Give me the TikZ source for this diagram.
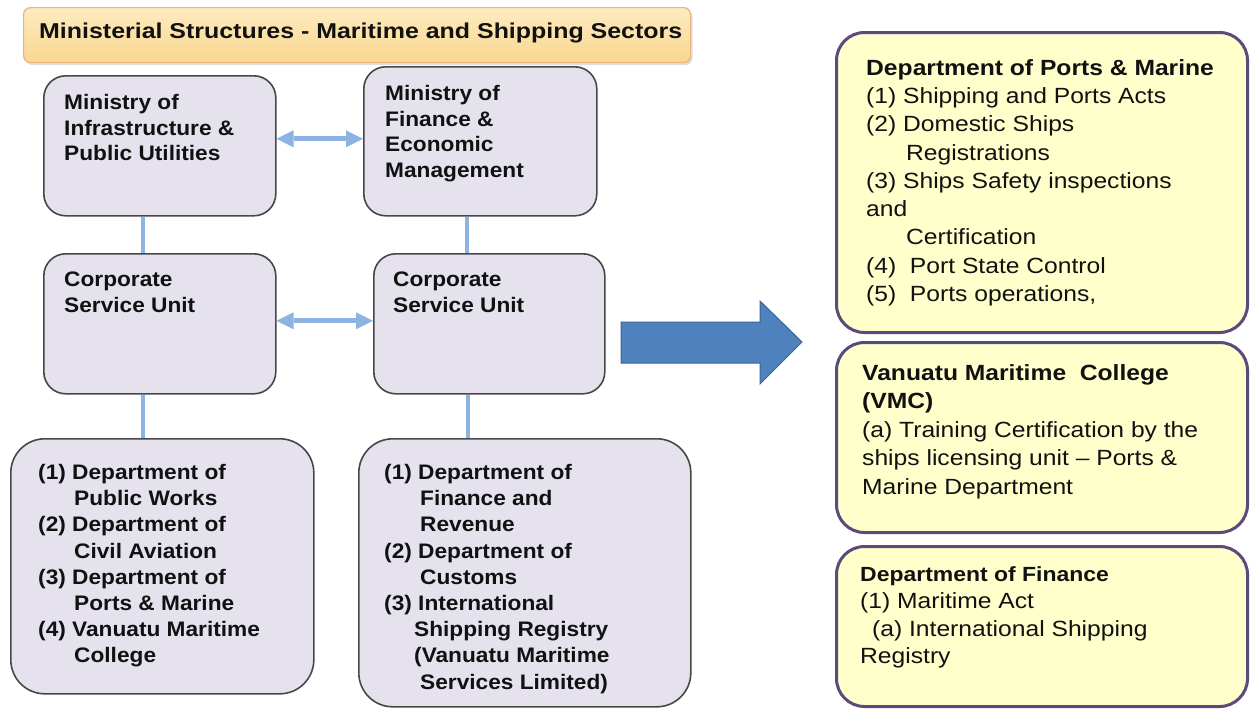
\documentclass[tikz,border=0pt]{standalone}
\usepackage{fontspec}
\setmainfont{Liberation Sans}[FakeStretch=1.08]
\newfontfamily\titlefont{Liberation Sans}[FakeStretch=1.16]
\newfontfamily\rightfont{Liberation Sans}[FakeStretch=1.12]
\usetikzlibrary{arrows.meta,shadows}
\definecolor{lavfill}{HTML}{E5E2EE}
\definecolor{lavdraw}{HTML}{474747}
\definecolor{conncol}{HTML}{8DB3E2}
\definecolor{bigblue}{HTML}{4F81BD}
\definecolor{bigbluedraw}{HTML}{3B6597}
\definecolor{yelfill}{HTML}{FFFFCC}
\definecolor{purpdraw}{HTML}{5C4A7C}
\definecolor{titletop}{HTML}{FDEBC0}
\definecolor{titlebot}{HTML}{F9D78F}
\definecolor{titledraw}{HTML}{EDB27C}
\definecolor{txt}{HTML}{111111}
\begin{document}
\begin{tikzpicture}[x=1pt,y=-1pt,
 lbox/.style={draw=lavdraw, line width=1.6pt, fill=lavfill, rounded corners=22pt, anchor=north west, inner sep=0pt},
 rbox/.style={draw=purpdraw, line width=3pt, fill=yelfill, rounded corners=28pt, anchor=north west, inner sep=0pt},
 ltext/.style={anchor=north west, inner sep=0pt, align=left, text=txt, font=\fontsize{21}{25.7}\selectfont\bfseries},
 rtext/.style={anchor=north west, inner sep=0pt, align=left, text=txt, font=\rightfont\fontsize{22}{28.3}\selectfont},
 conn/.style={draw=conncol, line width=4.5pt},
 dbl/.style={draw=conncol, line width=5pt, {Triangle[length=17pt,width=17pt,line width=0pt]}-{Triangle[length=17pt,width=17pt,line width=0pt]}},
]
\fill[white] (0,0) rectangle (1251,713);
\useasboundingbox (0,0) rectangle (1251,713);

% title
\node[draw=titledraw, line width=1.2pt, top color=titletop, bottom color=titlebot, rounded corners=7pt,
  minimum width=667pt, minimum height=55pt, anchor=north west, inner sep=0pt,
  drop shadow={shadow xshift=2pt, shadow yshift=-2.5pt, opacity=0.25}] (T) at (23,7) {};
\node[anchor=west, inner sep=0pt, text=txt, font=\titlefont\fontsize{21.5}{25}\selectfont\bfseries] (Tt) at (39,33)
  {Ministerial Structures - Maritime and Shipping Sectors};

% left boxes
\node[lbox, minimum width=232pt, minimum height=140pt] (A) at (43,75) {};
\node[lbox, minimum width=233pt, minimum height=149pt] (B) at (363,66) {};
\node[lbox, minimum width=232pt, minimum height=140pt] (C) at (43,253) {};
\node[lbox, minimum width=231pt, minimum height=140pt] (D) at (373,253) {};
\node[lbox, rounded corners=34pt, minimum width=303pt, minimum height=255pt] (E) at (10,438) {};
\node[lbox, rounded corners=34pt, minimum width=332pt, minimum height=268pt] (F) at (358,438) {};

\node[ltext] (At) at (64,94) {Ministry of\\Infrastructure \&\\Public Utilities};
\node[ltext] (Bt) at (385,85) {Ministry of\\Finance \&\\Economic\\Management};
\node[ltext] (Ct) at (64,272) {Corporate\\Service Unit};
\node[ltext] (Dt) at (393,272) {Corporate\\Service Unit};
\node[ltext, font=\fontsize{21}{26.2}\selectfont\bfseries] (Et) at (38,464)
  {(1) Department of\\\hspace*{36pt}Public Works\\(2) Department of\\\hspace*{36pt}Civil Aviation\\(3) Department of\\\hspace*{36pt}Ports \& Marine\\(4) Vanuatu Maritime\\\hspace*{36pt}College};
\node[ltext, font=\fontsize{21}{26.2}\selectfont\bfseries] (Ft) at (384,464)
  {(1) Department of\\\hspace*{36pt}Finance and\\\hspace*{36pt}Revenue\\(2) Department of\\\hspace*{36pt}Customs\\(3) International\\\hspace*{30pt}Shipping Registry\\\hspace*{30pt}(Vanuatu Maritime\\\hspace*{36pt}Services Limited)};

% connectors
\draw[conn] ([xshift=-17pt]A.south) -- ([xshift=-17pt]C.north);
\draw[conn] ([xshift=-17pt]C.south) -- ([xshift=-17pt]C.south |- E.north);
\draw[conn] ([xshift=-13.5pt]B.south) -- ([xshift=-13.5pt]B.south |- D.north);
\draw[conn] ([xshift=-21.5pt]D.south) -- ([xshift=-21.5pt]D.south |- F.north);
\path ([yshift=7pt]A.east) coordinate (ab);
\draw[dbl] (ab) -- (ab -| B.west);
\path ([yshift=3pt]C.east) coordinate (cd);
\draw[dbl] (cd) -- (cd -| D.west);

% big arrow
\path[fill=bigblue, draw=bigbluedraw, line width=1pt]
  (621,322) -- (760,322) -- (760,301) -- (802,342) -- (760,384) -- (760,363) -- (621,363) -- cycle;

% right boxes
\node[rbox, minimum width=411pt, minimum height=300pt] (G) at (835,31) {};
\node[rbox, minimum width=411pt, minimum height=190pt] (H) at (835,341) {};
\node[rbox, minimum width=411pt, minimum height=160pt] (I) at (835,545) {};

\node[rtext] (Gt) at (866,59)
  {{\bfseries Department of Ports \& Marine}\\(1) Shipping and Ports Acts\\(2) Domestic Ships\\\hspace*{40pt}Registrations\\(3) Ships Safety inspections\\and\\\hspace*{40pt}Certification\\(4)\ \ Port State Control\\(5)\ \ Ports operations,};
\node[rtext, font=\rightfont\fontsize{22}{28.5}\selectfont] (Ht) at (862,364)
  {{\bfseries Vanuatu Maritime\ \ College}\\{\bfseries (VMC)}\\(a) Training Certification by the\\ships licensing unit – Ports \&\\Marine Department};
\node[rtext, font=\rightfont\fontsize{22}{27.5}\selectfont] (It) at (860,566)
  {{\fontsize{20.5}{27.5}\selectfont\bfseries Department of Finance}\\(1) Maritime Act\\\hspace*{12pt}(a) International Shipping\\Registry};
\end{tikzpicture}
\end{document}
